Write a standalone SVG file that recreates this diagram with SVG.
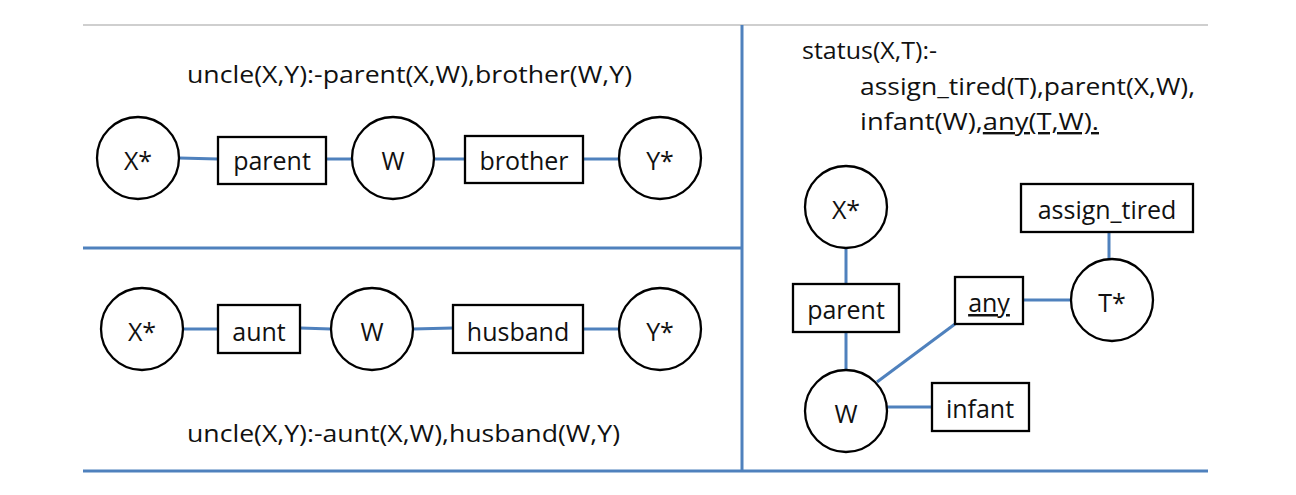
<svg xmlns="http://www.w3.org/2000/svg" width="1296" height="495" viewBox="0 0 1296 495">
<style>
  .frame { stroke: #4F81BD; stroke-width: 3; fill: none; }
  .conn line { stroke: #4F81BD; stroke-width: 3; }
  .node circle, .node rect { fill: #fff; stroke: #000; stroke-width: 2.3; }
  text { font-family: "Open Sans", "Liberation Sans", sans-serif; font-size: 24px; fill: #111; text-decoration-skip-ink: none; }
  .lbl { text-anchor: middle; font-size: 25px; }
  .ul { text-decoration: underline; text-decoration-skip-ink: none; }
</style>
<rect width="1296" height="495" fill="#fff"/>
<g id="frame">
  <line x1="83" y1="25" x2="1208" y2="25" stroke="#cfcfcf" stroke-width="2"/>
  <line class="frame" x1="742" y1="25" x2="742" y2="472"/>
  <line class="frame" x1="83" y1="248" x2="742" y2="248"/>
  <line class="frame" x1="83" y1="471" x2="1208" y2="471"/>
</g>
<g id="rules">
  <text x="187" y="83" textLength="445" lengthAdjust="spacingAndGlyphs">uncle(X,Y):-parent(X,W),brother(W,Y)</text>
  <text x="187" y="442" textLength="433" lengthAdjust="spacingAndGlyphs">uncle(X,Y):-aunt(X,W),husband(W,Y)</text>
  <text x="802" y="59" textLength="135" lengthAdjust="spacingAndGlyphs">status(X,T):-</text>
  <text x="860" y="95" textLength="335" lengthAdjust="spacingAndGlyphs">assign_tired(T),parent(X,W),</text>
  <text x="860" y="130" textLength="239" lengthAdjust="spacingAndGlyphs">infant(W),<tspan class="ul">any(T,W).</tspan></text>
</g>
<g class="conn" id="connectors">
  <line x1="179" y1="158" x2="218" y2="159"/>
  <line x1="326" y1="159" x2="353" y2="159"/>
  <line x1="434" y1="159" x2="465" y2="159"/>
  <line x1="583" y1="159" x2="619" y2="159"/>
  <line x1="183" y1="329" x2="218" y2="329"/>
  <line x1="300" y1="328" x2="331" y2="329"/>
  <line x1="413" y1="329" x2="453" y2="328"/>
  <line x1="583" y1="329" x2="619" y2="329"/>
  <line x1="846" y1="248" x2="846" y2="283"/>
  <line x1="846" y1="332" x2="846" y2="370"/>
  <line x1="877" y1="382" x2="955" y2="324"/>
  <line x1="1023" y1="300" x2="1071" y2="300"/>
  <line x1="887" y1="407" x2="932" y2="407"/>
  <line x1="1109" y1="232" x2="1109" y2="259"/>
</g>
<g class="node" id="t_x"><circle cx="138" cy="158" r="41"/><text class="lbl" x="138" y="170">X*</text></g>
<g class="node" id="t_parent"><rect x="218" y="137" width="108" height="47"/><text class="lbl" x="272" y="170">parent</text></g>
<g class="node" id="t_w"><circle cx="393" cy="158" r="41"/><text class="lbl" x="393" y="170">W</text></g>
<g class="node" id="t_brother"><rect x="465" y="136" width="118" height="47"/><text class="lbl" x="524" y="170">brother</text></g>
<g class="node" id="t_y"><circle cx="660" cy="158" r="41"/><text class="lbl" x="660" y="170">Y*</text></g>
<g class="node" id="b_x"><circle cx="142" cy="329" r="41"/><text class="lbl" x="142" y="341">X*</text></g>
<g class="node" id="b_aunt"><rect x="218" y="305" width="82" height="48"/><text class="lbl" x="259" y="341">aunt</text></g>
<g class="node" id="b_w"><circle cx="372" cy="329" r="41"/><text class="lbl" x="372" y="341">W</text></g>
<g class="node" id="b_husband"><rect x="453" y="305" width="130" height="48"/><text class="lbl" x="518" y="341">husband</text></g>
<g class="node" id="b_y"><circle cx="660" cy="329" r="41"/><text class="lbl" x="660" y="341">Y*</text></g>
<g class="node" id="r_x"><circle cx="846" cy="207" r="41"/><text class="lbl" x="846" y="219">X*</text></g>
<g class="node" id="r_assign"><rect x="1021" y="184" width="172" height="48"/><text class="lbl" x="1107" y="219">assign_tired</text></g>
<g class="node" id="r_parent"><rect x="793" y="284" width="106" height="48"/><text class="lbl" x="846" y="319">parent</text></g>
<g class="node" id="r_any"><rect x="955" y="277" width="68" height="47"/><text class="lbl ul" x="989" y="312">any</text></g>
<g class="node" id="r_t"><circle cx="1112" cy="300" r="41"/><text class="lbl" x="1112" y="312">T*</text></g>
<g class="node" id="r_w"><circle cx="846" cy="411" r="41"/><text class="lbl" x="846" y="423">W</text></g>
<g class="node" id="r_infant"><rect x="932" y="383" width="97" height="48"/><text class="lbl" x="980" y="418">infant</text></g>
</svg>
